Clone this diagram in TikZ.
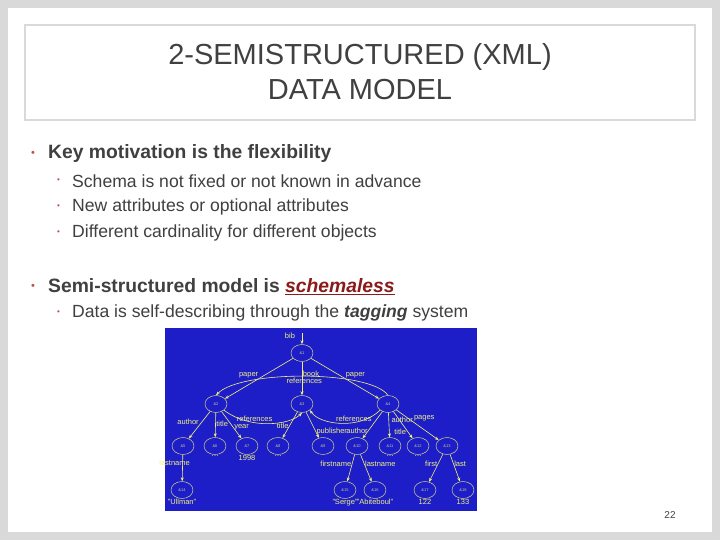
\documentclass[tikz,border=0pt]{standalone}
\usepackage{fontspec}
\setmainfont{Liberation Sans}
\usetikzlibrary{shapes.geometric,arrows.meta,positioning}
\definecolor{frame}{HTML}{D9D9D9}
\definecolor{tgray}{HTML}{404040}
\definecolor{blu}{HTML}{1E1EC8}
\definecolor{yel}{HTML}{F0F080}
\definecolor{dred}{HTML}{8B1A1A}
\definecolor{bul}{HTML}{C0504D}
\begin{document}
\begin{tikzpicture}[x=1pt,y=-1pt,
 obj/.style={draw=yel,ellipse,minimum width=22pt,minimum height=17pt,inner sep=0pt,font=\fontsize{4}{4}\selectfont,text=yel!80!blu},
 lab/.style={font=\fontsize{7.5}{8}\selectfont,text=yel,inner sep=0.5pt},
 edge/.style={draw=yel,line width=0.6pt,-{Stealth[length=4pt,width=3pt]}},
 txt/.style={anchor=west,inner sep=0pt,text=tgray}]
\fill[frame] (0,0) rectangle (720,540);
\fill[white] (8,8) rectangle (712,532);
\draw[frame,line width=1.2pt] (25,25) rectangle (695,120);
\node[text=tgray,font=\fontsize{29}{35}\selectfont,align=center] (title) at (360,72) {2-SEMISTRUCTURED (XML)\\DATA MODEL};
\node[txt,text=bul,font=\fontsize{11}{11}\selectfont] (b1) at (31,154) {•};
\node[txt,font=\bfseries\fontsize{19.3}{20}\selectfont] (t1) at (48,154) {Key motivation is the flexibility};
\foreach \y/\s [count=\i] in {181/Schema is not fixed or not known in advance,207/New attributes or optional attributes,233/Different cardinality for different objects}{
 \node[txt,text=bul,font=\fontsize{8}{8}\selectfont] (sb\i) at (57,\y) {•};
 \node[txt,font=\fontsize{17.6}{18}\selectfont] (st\i) at (72,\y) {\s};}
\node[txt,text=bul,font=\fontsize{11}{11}\selectfont] (b2) at (31,287) {•};
\node[txt,font=\bfseries\fontsize{19.3}{20}\selectfont] (t2) at (48,287) {Semi-structured model is \textcolor{dred}{\underline{\itshape schemaless}}};
\node[txt,text=bul,font=\fontsize{8}{8}\selectfont] (sb4) at (57,313) {•};
\node[txt,font=\fontsize{17.6}{18}\selectfont] (st4) at (72,313) {Data is self-describing through the \textbf{\itshape tagging} system};
\fill[blu] (165,328) rectangle (477,511);
\node[obj] (n1) at (302,353) {\&1};
\node[obj] (n2) at (216,404) {\&2};
\node[obj] (n3) at (302,404) {\&3};
\node[obj] (n4) at (388,404) {\&4};
\foreach \n/\x in {5/183,6/215,7/247,8/278,9/323,10/357,11/390,12/418,13/447}{\node[obj] (n\n) at (\x,446) {\&\n};}
\foreach \n/\x in {14/182,15/345,16/375,17/425,18/463}{\node[obj] (n\n) at (\x,490) {\&\n};}
\coordinate (top) at (302,333);
\node[lab] (lbib) at (290,336) {bib};
\draw[edge] (top) -- (n1);
\draw[edge] (n1) -- node[lab,above left] {paper} (n2);
\draw[edge] (n1) -- node[lab,pos=0.35,right] {book} (n3);
\draw[edge] (n1) -- node[lab,above right] {paper} (n4);
\draw[edge] (n4.north) .. controls (370,370) and (240,370) .. node[lab,pos=0.5,below=1pt] {references} (n2.north);
\draw[edge] (n2.south east) .. controls (250,430) and (290,425) .. node[lab,pos=0.35,above] {references} (n3.south);
\draw[edge] (n4.south west) .. controls (360,430) and (320,425) .. node[lab,pos=0.35,above] {references} (n3.south east);
\draw[edge] (n2) -- node[lab,above left] {author} (n5);
\draw[edge] (n2) -- node[lab,pos=0.45,right] {title} (n6);
\draw[edge] (n2) -- node[lab,pos=0.6,right] {year} (n7);
\draw[edge] (n3) -- node[lab,pos=0.55,left] {title} (n8);
\draw[edge] (n3) -- node[lab,pos=0.75,right] {publisher} (n9);
\draw[edge] (n4) -- node[lab,pos=0.7,left] {author} (n10);
\draw[edge] (n4) -- node[lab,pos=0.3,right=2pt] {author} (n11);
\draw[edge] (n4) -- node[lab,pos=0.75,left=1pt] {title} (n12);
\draw[edge] (n4) -- node[lab,pos=0.4,above right] {pages} (n13);
\draw[edge] (n5) -- node[lab,pos=0.3,anchor=east,xshift=8pt] {lastname} (n14);
\draw[edge] (n10) -- node[lab,pos=0.35,left] {firstname} (n15);
\draw[edge] (n10) -- node[lab,pos=0.35,right] {lastname} (n16);
\draw[edge] (n13) -- node[lab,pos=0.35,left] {first} (n17);
\draw[edge] (n13) -- node[lab,pos=0.35,right] {last} (n18);
\node[lab,below=0pt of n6] (v6) {\ldots};
\node[lab,below=0pt of n8] (v8) {\ldots};
\node[lab,below=0pt of n11] (v11) {\ldots};
\node[lab,below=0pt of n12] (v12) {\ldots};
\node[lab,below=0pt of n7] (v7) {1998};
\node[lab,below=0pt of n14] (v14) {"Ullman"};
\node[lab,below=0pt of n15] (v15) {"Serge"};
\node[lab,below=0pt of n16] (v16) {"Abiteboul"};
\node[lab,below=0pt of n17] (v17) {122};
\node[lab,below=0pt of n18] (v18) {133};
\node[text=tgray,font=\fontsize{10}{10}\selectfont] (pg) at (670,515) {22};
\end{tikzpicture}
\end{document}
